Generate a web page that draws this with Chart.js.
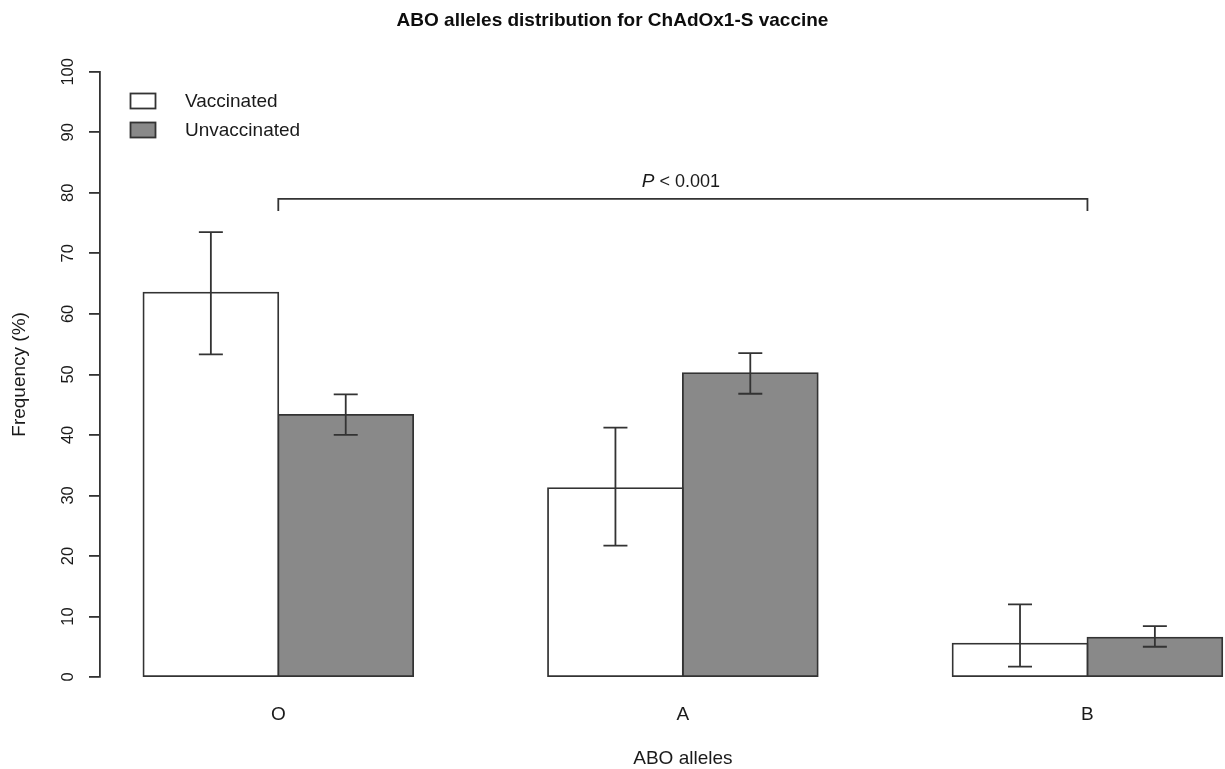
<!DOCTYPE html>
<html>
<head>
<meta charset="utf-8">
<script src="https://cdn.jsdelivr.net/npm/chart.js@4.4.0/dist/chart.umd.min.js"></script>
<style>
  html, body { margin: 0; padding: 0; background: #ffffff; overflow: hidden; }
  #c { display: block; }
</style>
</head>
<body>
<canvas id="c" width="1225" height="769"></canvas>
<script>
// ---- data ----
const categories = ['O', 'A', 'B'];
const seriesNames = ['Vaccinated', 'Unvaccinated'];
const vaccinated = [63.5, 31.2, 5.5];
const vaccinatedLow = [53.3, 21.7, 1.7];
const vaccinatedHigh = [73.5, 41.2, 12.0];
const unvaccinated = [43.3, 50.2, 6.5];
const unvaccinatedLow = [40.0, 46.8, 5.0];
const unvaccinatedHigh = [46.7, 53.5, 8.4];
const yTicks = [0, 10, 20, 30, 40, 50, 60, 70, 80, 90, 100];
const titleText = 'ABO alleles distribution for ChAdOx1-S vaccine';
const xTitle = 'ABO alleles';
const yTitle = 'Frequency (%)';
const pText = ['P', ' < 0.001'];

// ---- styles ----
const FONT = '"Liberation Sans", Arial, Helvetica, sans-serif';
const EDGE = '#333333';
const GRAY = '#898989';
const TXT = '#1a1a1a';
const LW = 1.8;

function toPoints(vals) { return vals.map((v, i) => ({ x: i, y: v })); }

const annot = {
  id: 'annot',
  afterDatasetsDraw(chart) {
    const { ctx, scales: { y } } = chart;
    ctx.save();
    ctx.strokeStyle = EDGE;
    ctx.lineWidth = LW;
    chart.data.datasets.forEach((ds, di) => {
      const meta = chart.getDatasetMeta(di);
      meta.data.forEach((bar, i) => {
        const cx = bar.x;
        const yl = y.getPixelForValue(ds.errLow[i]);
        const yh = y.getPixelForValue(ds.errHigh[i]);
        ctx.beginPath();
        ctx.moveTo(cx, yl); ctx.lineTo(cx, yh);
        ctx.moveTo(cx - 12, yl); ctx.lineTo(cx + 12, yl);
        ctx.moveTo(cx - 12, yh); ctx.lineTo(cx + 12, yh);
        ctx.stroke();
      });
    });
    ctx.restore();
  },
  afterDraw(chart) {
    const { ctx, scales: { x, y } } = chart;
    ctx.save();
    ctx.fillStyle = TXT;
    // y tick labels (rotated)
    ctx.font = '16.5px ' + FONT;
    ctx.textAlign = 'center';
    ctx.textBaseline = 'middle';
    y.ticks.forEach(t => {
      const py = y.getPixelForValue(t.value);
      ctx.save();
      ctx.translate(68, py);
      ctx.rotate(-Math.PI / 2);
      ctx.fillText(String(t.value), 0, 0);
      ctx.restore();
    });
    // y title
    ctx.font = '19px ' + FONT;
    ctx.save();
    ctx.translate(20, (y.getPixelForValue(-4) + y.getPixelForValue(104)) / 2);
    ctx.rotate(-Math.PI / 2);
    ctx.fillText(yTitle, 0, 0);
    ctx.restore();
    // x title
    ctx.fillText(xTitle, x.getPixelForValue(1), 759);

    // legend
    const boxes = [{ y0: 93.5 }, { y0: 122.5 }];
    chart.data.datasets.forEach((ds, di) => {
      const b = boxes[di];
      ctx.fillStyle = ds.backgroundColor;
      ctx.fillRect(130.5, b.y0, 25, 15);
      ctx.strokeStyle = EDGE;
      ctx.lineWidth = LW;
      ctx.strokeRect(130.5, b.y0, 25, 15);
      ctx.fillStyle = TXT;
      ctx.textAlign = 'left';
      ctx.fillText(ds.label, 185, b.y0 + 8);
    });

    // significance bracket
    const xl = x.getPixelForValue(0), xr = x.getPixelForValue(2);
    const yb = y.getPixelForValue(79), yd = y.getPixelForValue(77);
    ctx.strokeStyle = EDGE;
    ctx.lineWidth = LW;
    ctx.beginPath();
    ctx.moveTo(xl, yd); ctx.lineTo(xl, yb); ctx.lineTo(xr, yb); ctx.lineTo(xr, yd);
    ctx.stroke();
    ctx.fillStyle = TXT;
    const fI = 'italic 19px ' + FONT, fN = '18px ' + FONT;
    ctx.font = fI; const w1 = ctx.measureText(pText[0]).width;
    ctx.font = fN; const w2 = ctx.measureText(pText[1]).width;
    const cx = (xl + xr) / 2;
    const sx = cx - (w1 + w2) / 2 - 2;
    const ty = y.getPixelForValue(81.8);
    ctx.textAlign = 'left';
    ctx.font = fI; ctx.fillText(pText[0], sx, ty);
    ctx.font = fN; ctx.fillText(pText[1], sx + w1, ty);
    ctx.restore();
  }
};

new Chart(document.getElementById('c'), {
  type: 'bar',
  data: {
    datasets: [
      { label: seriesNames[0], data: toPoints(vaccinated), errLow: vaccinatedLow, errHigh: vaccinatedHigh,
        backgroundColor: '#ffffff', borderColor: EDGE, borderWidth: LW, borderSkipped: false, inflateAmount: 0.9 },
      { label: seriesNames[1], data: toPoints(unvaccinated), errLow: unvaccinatedLow, errHigh: unvaccinatedHigh,
        backgroundColor: GRAY, borderColor: EDGE, borderWidth: LW, borderSkipped: false, inflateAmount: 0.9 }
    ]
  },
  options: {
    responsive: false,
    animation: false,
    devicePixelRatio: 1,
    layout: { padding: { left: 0, right: 0, top: 0, bottom: 0 } },
    datasets: { bar: { categoryPercentage: 2 / 3, barPercentage: 1.0 } },
    plugins: {
      legend: { display: false },
      tooltip: { enabled: false },
      title: {
        display: true, text: titleText, color: '#0d0d0d',
        font: { family: FONT, size: 19, weight: 'bold' },
        padding: { top: 9, bottom: 40 }
      }
    },
    scales: {
      x: {
        type: 'linear',
        offset: false,
        min: -0.4407, max: 2.34,
        afterBuildTicks: s => { s.ticks = categories.map((c, i) => ({ value: i })); },
        afterFit: s => { s.height = 92; },
        grid: { display: false, drawTicks: false, offset: false },
        border: { display: false },
        ticks: {
          callback: v => categories[v],
          color: TXT, font: { family: FONT, size: 19 }, padding: 26, maxRotation: 0, autoSkip: false
        }
      },
      y: {
        min: 0, max: 100,
        afterBuildTicks: s => { s.ticks = yTicks.map(v => ({ value: v })); },
        afterFit: s => { s.width = 100; },
        grid: { drawOnChartArea: false, drawTicks: true, tickLength: 11, color: EDGE, lineWidth: LW },
        border: { display: true, color: EDGE, width: LW },
        ticks: { display: false }
      }
    }
  },
  plugins: [annot]
});
</script>
</body>
</html>
